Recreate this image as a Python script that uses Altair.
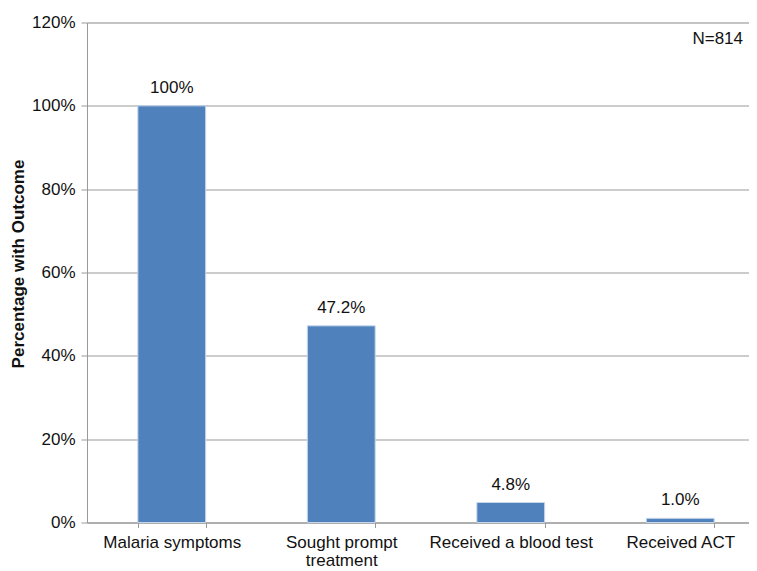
import altair as alt
import pandas as pd

categories = ["Malaria symptoms", "Sought prompt treatment", "Received a blood test", "Received ACT"]
values = [1.00, 0.472, 0.048, 0.010]
value_labels = ["100%", "47.2%", "4.8%", "1.0%"]
y_ticks = [0, 0.2, 0.4, 0.6, 0.8, 1.0, 1.2]
note = "N=814"

df = pd.DataFrame({"cat": categories, "val": values, "lab": value_labels})

FONT = "Liberation Sans"
BLUE = "#4F81BD"
FS = 17

x_enc = alt.X(
    "cat:N",
    sort=categories,
    scale=alt.Scale(range=[0, 678], paddingInner=0.6, paddingOuter=0.3),
    axis=alt.Axis(
        title=None,
        labelAngle=0,
        labelFontSize=FS,
        labelFont=FONT,
        labelColor="#111111",
        labelPadding=7,
        tickBand="extent",
        tickSize=5,
        tickColor="#999999",
        domainColor="#999999",
        labelExpr="datum.value == 'Sought prompt treatment' ? ['Sought prompt', 'treatment'] : datum.value",
        labelLineHeight=18,
    ),
)

y_enc = alt.Y(
    "val:Q",
    scale=alt.Scale(domain=[0, 1.2], nice=False),
    axis=alt.Axis(
        values=y_ticks,
        format=".0%",
        title="Percentage with Outcome",
        titleFontSize=17,
        titleFont=FONT,
        titleFontWeight="bold",
        titleColor="#111111",
        titleAngle=-90,
        titleX=-69,
        titleY=241,
        titleAlign="center",
        titleBaseline="middle",
        labelFontSize=FS,
        labelFont=FONT,
        labelColor="#111111",
        labelPadding=6,
        tickSize=6,
        tickColor="#999999",
        domainColor="#999999",
        gridColor="#999999",
        gridWidth=1,
    ),
)

bars = alt.Chart(df).mark_bar(color=BLUE, stroke="#C6D6EA", strokeWidth=1).encode(x=x_enc, y=y_enc)

labels = alt.Chart(df).mark_text(
    dy=-9, baseline="bottom", fontSize=FS, font=FONT, color="#111111"
).encode(x=alt.X("cat:N", sort=categories), y="val:Q", text="lab:N")

note_df = pd.DataFrame({"t": [note]})
note_text = alt.Chart(note_df).mark_text(
    align="right", baseline="middle", fontSize=FS, font=FONT, color="#111111"
).encode(x=alt.value(656), y=alt.value(16), text="t:N")

chart = (
    alt.layer(bars, labels, note_text)
    .properties(
        width=662,
        height=500,
        autosize=alt.AutoSizeParams(type="none"),
        padding={"left": 79, "top": 14.5, "right": 0, "bottom": 48},
    )
    .configure_view(stroke=None)
    .configure(background="white")
)

chart.save("out.html", embed_options={"renderer": "svg", "actions": False})
